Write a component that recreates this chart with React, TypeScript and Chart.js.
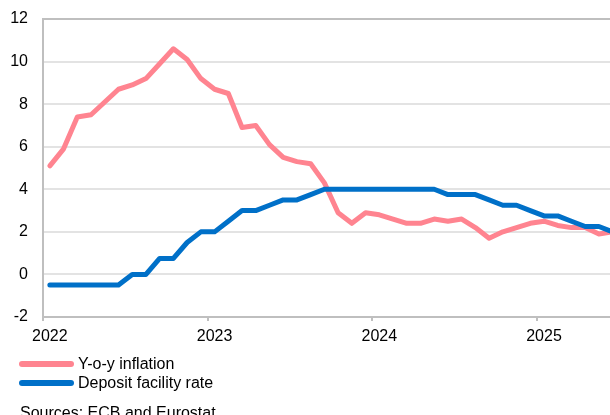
import React, { useEffect, useRef } from "react";
import { Chart, registerables } from "chart.js";

Chart.register(...registerables);

const MONTHS: string[] = [
  "2022-01", "2022-02", "2022-03", "2022-04", "2022-05", "2022-06",
  "2022-07", "2022-08", "2022-09", "2022-10", "2022-11", "2022-12",
  "2023-01", "2023-02", "2023-03", "2023-04", "2023-05", "2023-06",
  "2023-07", "2023-08", "2023-09", "2023-10", "2023-11", "2023-12",
  "2024-01", "2024-02", "2024-03", "2024-04", "2024-05", "2024-06",
  "2024-07", "2024-08", "2024-09", "2024-10", "2024-11", "2024-12",
  "2025-01", "2025-02", "2025-03", "2025-04", "2025-05", "2025-06",
];

const INFLATION: number[] = [
  5.1, 5.9, 7.4, 7.5, 8.1, 8.7, 8.9, 9.2, 9.9, 10.6, 10.1, 9.2,
  8.7, 8.5, 6.9, 7.0, 6.1, 5.5, 5.3, 5.2, 4.3, 2.9, 2.4, 2.9,
  2.8, 2.6, 2.4, 2.4, 2.6, 2.5, 2.6, 2.2, 1.7, 2.0, 2.2, 2.4,
  2.5, 2.3, 2.2, 2.2, 1.9, 2.0,
];

const DEPOSIT_RATE: number[] = [
  -0.5, -0.5, -0.5, -0.5, -0.5, -0.5, 0, 0, 0.75, 0.75, 1.5, 2.0,
  2.0, 2.5, 3.0, 3.0, 3.25, 3.5, 3.5, 3.75, 4.0, 4.0, 4.0, 4.0,
  4.0, 4.0, 4.0, 4.0, 4.0, 3.75, 3.75, 3.75, 3.5, 3.25, 3.25, 3.0,
  2.75, 2.75, 2.5, 2.25, 2.25, 2.0,
];

const YEAR_TICKS: string[] = ["2022", "2023", "2024", "2025"];
const Y_MIN = -2;
const Y_MAX = 12;
const Y_STEP = 2;

const SERIES_NAMES: string[] = ["Y-o-y inflation", "Deposit facility rate"];
const SOURCE_TEXT = "Sources: ECB and Eurostat";

const PINK = "#FF8490";
const BLUE = "#0070C8";
const AXIS_GRAY = "#BFBFBF";
const GRID_GRAY = "#E3E3E3";
const FONT_FAMILY = "'Liberation Sans', Arial, Helvetica, sans-serif";

const CANVAS_W = 640;
const CANVAS_H = 360;

export default function App() {
  const canvasRef = useRef<HTMLCanvasElement | null>(null);

  useEffect(() => {
    if (!canvasRef.current) return;
    const yearOf = (i: number) => {
      const m = MONTHS[i];
      if (!m || !m.endsWith("-01")) return "";
      const y = m.slice(0, 4);
      return YEAR_TICKS.includes(y) ? y : "";
    };
    const chart = new Chart(canvasRef.current, {
      type: "line",
      data: {
        labels: MONTHS,
        datasets: [
          {
            label: SERIES_NAMES[0],
            data: INFLATION,
            borderColor: PINK,
            backgroundColor: PINK,
            borderWidth: 5,
            pointRadius: 0,
            tension: 0,
            borderJoinStyle: "round",
            borderCapStyle: "round",
            order: 1,
          },
          {
            label: SERIES_NAMES[1],
            data: DEPOSIT_RATE,
            borderColor: BLUE,
            backgroundColor: BLUE,
            borderWidth: 5,
            pointRadius: 0,
            tension: 0,
            borderJoinStyle: "round",
            borderCapStyle: "round",
            order: 0,
          },
        ],
      },
      options: {
        responsive: false,
        animation: false,
        devicePixelRatio: 1,
        layout: { padding: { left: 0, right: 20.5, top: 19, bottom: 0 } },
        plugins: {
          legend: { display: false },
          tooltip: { enabled: false },
        },
        scales: {
          x: {
            type: "category",
            offset: true,
            grid: {
              display: true,
              offset: true,
              drawOnChartArea: false,
              drawTicks: true,
              tickLength: 4,
              lineWidth: 2,
              color: (ctx: any) => (yearOf(ctx.index) ? AXIS_GRAY : "rgba(0,0,0,0)"),
            },
            border: { display: true, color: AXIS_GRAY, width: 2 },
            ticks: {
              autoSkip: false,
              maxRotation: 0,
              minRotation: 0,
              padding: 6,
              color: "#000",
              font: { family: FONT_FAMILY, size: 16 },
              callback: (_v: any, i: number) => yearOf(i),
            },
            afterFit: (s: any) => {
              s.height = CANVAS_H - 317;
            },
          },
          y: {
            min: Y_MIN,
            max: Y_MAX,
            ticks: {
              stepSize: Y_STEP,
              padding: 3,
              color: "#000",
              font: { family: FONT_FAMILY, size: 16 },
            },
            grid: {
              drawTicks: true,
              tickLength: 12,
              tickColor: "rgba(0,0,0,0)",
              lineWidth: 2,
              color: (ctx: any) => (ctx.tick && ctx.tick.value === Y_MAX ? AXIS_GRAY : GRID_GRAY),
            },
            border: { display: true, color: AXIS_GRAY, width: 2 },
            afterFit: (s: any) => {
              s.width = 43;
            },
          },
        },
      },
    });
    return () => chart.destroy();
  }, []);

  const legendRow = (top: number, color: string, text: string) => (
    <div
      style={{
        position: "absolute",
        left: 0,
        top,
        height: 19,
        width: 300,
        lineHeight: "19px",
        fontFamily: FONT_FAMILY,
        fontSize: 16,
        color: "#000",
        whiteSpace: "nowrap",
      }}
    >
      <div
        style={{
          position: "absolute",
          left: 19,
          top: 6.5,
          width: 55,
          height: 6,
          borderRadius: 3,
          background: color,
        }}
      />
      <span style={{ position: "absolute", left: 78, top: 0 }}>{text}</span>
    </div>
  );

  return (
    <div
      style={{
        position: "fixed",
        left: 0,
        top: 0,
        width: 610,
        height: 415,
        overflow: "hidden",
        background: "#fff",
      }}
    >
      <canvas
        ref={canvasRef}
        width={CANVAS_W}
        height={CANVAS_H}
        style={{ position: "absolute", left: 0, top: 0, width: CANVAS_W, height: CANVAS_H }}
      />
      {legendRow(354, PINK, SERIES_NAMES[0])}
      {legendRow(373, BLUE, SERIES_NAMES[1])}
      <div
        style={{
          position: "absolute",
          left: 20,
          top: 403,
          lineHeight: "19px",
          fontFamily: FONT_FAMILY,
          fontSize: 16,
          color: "#000",
          whiteSpace: "nowrap",
        }}
      >
        {SOURCE_TEXT}
      </div>
    </div>
  );
}
